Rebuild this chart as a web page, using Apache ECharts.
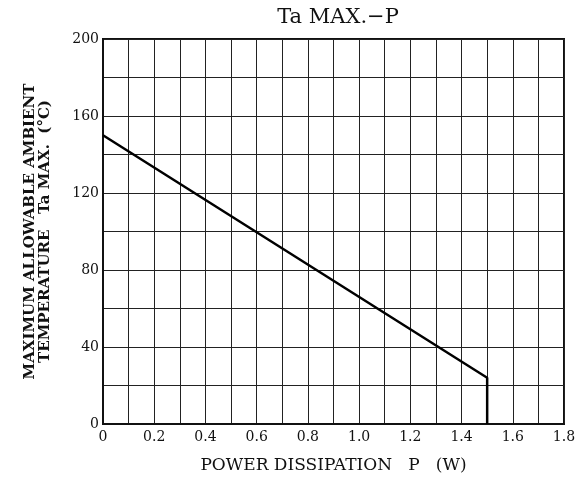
<!DOCTYPE html>
<html><head><meta charset="utf-8">
<script src="https://cdn.jsdelivr.net/npm/echarts@6/dist/echarts.min.js"></script>
<style>html,body{margin:0;padding:0;background:#fff}#c{width:586px;height:488px}</style>
</head><body><div id="c"></div>
<script>
var powerW = [0, 1.5, 1.5];
var taMax = [150, 24, 0];
var xTicks = [0, 0.2, 0.4, 0.6, 0.8, 1.0, 1.2, 1.4, 1.6, 1.8];
var yTicks = [0, 40, 80, 120, 160, 200];
var chart = echarts.init(document.getElementById('c'));
var font = '"DejaVu Serif","Liberation Serif",serif';
chart.setOption({
  animation: false,
  title: {text: 'Ta MAX.\u2212P', left: 333, top: 2, textAlign: 'center',
    textStyle: {fontFamily: font, fontSize: 21, fontWeight: 'normal', color: '#111'}},
  grid: {left: 103, right: 22, top: 39, bottom: 64, show: true, borderColor: '#111', borderWidth: 2},
  xAxis: {type: 'value', min: 0, max: 1.8, interval: 0.2,
    name: 'POWER DISSIPATION   P   (W)', nameLocation: 'middle', nameGap: 33,
    nameTextStyle: {fontFamily: font, fontSize: 17, color: '#111'},
    axisLine: {show: true, lineStyle: {color: '#111', width: 2}},
    axisTick: {show: false},
    axisLabel: {fontFamily: font, fontSize: 14, color: '#111', margin: 6,
      formatter: function (v) { return v === 0 ? '0' : v.toFixed(1); }},
    splitLine: {show: true, lineStyle: {color: '#222', width: 1}},
    minorTick: {show: false, splitNumber: 2},
    minorSplitLine: {show: true, lineStyle: {color: '#222', width: 1}}
  },
  yAxis: {type: 'value', min: 0, max: 200, interval: 40,
    name: 'MAXIMUM ALLOWABLE AMBIENT\nTEMPERATURE   Ta MAX.  (\u00b0C)', nameLocation: 'middle', nameGap: 50,
    nameTextStyle: {fontFamily: font, fontSize: 15, fontWeight: 'bold', color: '#111', lineHeight: 15},
    axisLine: {show: true, lineStyle: {color: '#111', width: 2}},
    axisTick: {show: false},
    axisLabel: {fontFamily: font, fontSize: 14, color: '#111', margin: 4},
    splitLine: {show: true, lineStyle: {color: '#222', width: 1}},
    minorTick: {show: false, splitNumber: 2},
    minorSplitLine: {show: true, lineStyle: {color: '#222', width: 1}}
  },
  series: [{type: 'line', data: powerW.map(function (p, i) { return [p, taMax[i]]; }),
    symbol: 'none', lineStyle: {color: '#000', width: 2.5}}]
});
</script></body></html>
